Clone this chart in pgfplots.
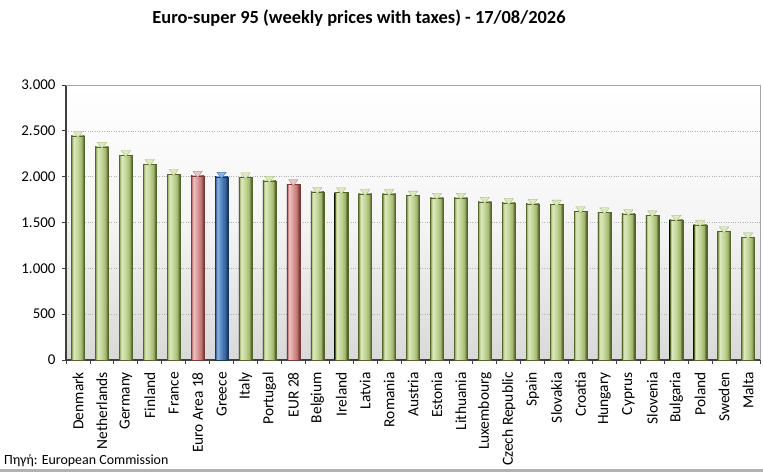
\documentclass[border=0pt]{standalone}
\usepackage{pgfplots}
\pgfplotsset{compat=1.18}
\usepackage{fontspec}
\setmainfont{Carlito}
\definecolor{gedge}{HTML}{55662A}
\definecolor{gbody}{HTML}{C2D596}
\definecolor{ghigh}{HTML}{DDE9BF}
\definecolor{gshade}{HTML}{A3B670}
\definecolor{redge}{HTML}{7A3B39}
\definecolor{rbody}{HTML}{D99694}
\definecolor{rhigh}{HTML}{EDC3C2}
\definecolor{rshade}{HTML}{BC7270}
\definecolor{bedge}{HTML}{17375E}
\definecolor{bbody}{HTML}{4F81BD}
\definecolor{bhigh}{HTML}{8DB3E2}
\definecolor{bshade}{HTML}{3A659B}
\pgfdeclarehorizontalshading{gbar}{100bp}{color(0bp)=(gedge); color(25bp)=(gedge); color(27.5bp)=(gshade); color(34bp)=(ghigh); color(50bp)=(gbody); color(64bp)=(gshade); color(72bp)=(gedge); color(75bp)=(gedge); color(100bp)=(gedge)}
\pgfdeclarehorizontalshading{rbar}{100bp}{color(0bp)=(redge); color(25bp)=(redge); color(27.5bp)=(rshade); color(34bp)=(rhigh); color(50bp)=(rbody); color(64bp)=(rshade); color(72bp)=(redge); color(75bp)=(redge); color(100bp)=(redge)}
\pgfdeclarehorizontalshading{bbar}{100bp}{color(0bp)=(bedge); color(25bp)=(bedge); color(27.5bp)=(bshade); color(34bp)=(bhigh); color(50bp)=(bbody); color(64bp)=(bshade); color(72bp)=(bedge); color(75bp)=(bedge); color(100bp)=(bedge)}
% one bar per \addplot so each bar gets its own shading
\newcommand{\onebar}[3]{%
  \addplot[ybar, bar shift=0pt, bar width=13bp, draw=#1edge, line width=0.3bp, shading=#1bar, shade, forget plot] coordinates {(#2,#3)};
  \addplot[only marks, mark=triangle*, mark size=4.2bp, mark options={rotate=180, xscale=1.3, yshift=-2.4bp, fill=#1high, draw=#1shade, line width=0.3bp}, forget plot] coordinates {(#2,#3)};
}
\begin{document}
\begin{tikzpicture}
\path[use as bounding box] (0,0) rectangle (763bp,472bp);
\fill[gray!60] (0,0) rectangle (763bp,3bp);
\node[font=\bfseries\fontsize{18.5}{21}\selectfont] at (359bp,454bp) {Euro-super 95 (weekly prices with taxes) - 17/08/2026};
\node[anchor=base west, font=\fontsize{14}{16}\selectfont, inner sep=0pt] at (4bp,8bp) {Πηγή: European Commission};
\begin{axis}[
  at={(66bp,112bp)}, anchor=south west,
  scale only axis, width=694bp, height=275bp,
  xmin=-0.5, xmax=28.5, ymin=0, ymax=3000,
  axis x line*=bottom, axis y line*=left,
  axis line style={draw=black!75, line width=1.2bp},
  axis background/.style={top color=white, bottom color=black!15, middle color=black!4},
  xtick={0,...,28},
  xticklabels={Denmark,Netherlands,Germany,Finland,France,Euro Area 18,Greece,Italy,Portugal,EUR 28,Belgium,Ireland,Latvia,Romania,Austria,Estonia,Lithuania,Luxembourg,Czech Republic,Spain,Slovakia,Croatia,Hungary,Cyprus,Slovenia,Bulgaria,Poland,Sweden,Malta},
  x tick label style={rotate=90, anchor=east, font=\fontsize{15.5}{18}\selectfont, inner sep=1bp},
  major x tick style={draw=none},
  minor xtick={-0.5,0.5,...,28.5},
  minor x tick style={draw=black!75, line width=0.8bp},
  minor tick length=4bp,
  tick align=outside,
  ytick={0,500,...,3000},
  major tick length=4bp,
  y tick style={draw=black!75, line width=0.8bp},
  y tick label style={font=\fontsize{15}{17}\selectfont, xshift=-3bp},
  scaled y ticks=false,
  yticklabel style={/pgf/number format/.cd, fixed, 1000 sep={.}, assume math mode=true},
  ymajorgrids, grid style={dotted, black!30},
  xticklabel style={xshift=-7bp},
  clip=false,
]
\draw[black!35, line width=0.8bp] (rel axis cs:0,1) -- (rel axis cs:1,1) -- (rel axis cs:1,0);
\onebar{g}{0}{2444}
\onebar{g}{1}{2327}
\onebar{g}{2}{2236}
\onebar{g}{3}{2138}
\onebar{g}{4}{2029}
\onebar{r}{5}{2011}
\onebar{b}{6}{2000}
\onebar{g}{7}{1993}
\onebar{g}{8}{1956}
\onebar{r}{9}{1920}
\onebar{g}{10}{1833}
\onebar{g}{11}{1829}
\onebar{g}{12}{1811}
\onebar{g}{13}{1811}
\onebar{g}{14}{1793}
\onebar{g}{15}{1771}
\onebar{g}{16}{1771}
\onebar{g}{17}{1727}
\onebar{g}{18}{1713}
\onebar{g}{19}{1705}
\onebar{g}{20}{1695}
\onebar{g}{21}{1622}
\onebar{g}{22}{1611}
\onebar{g}{23}{1593}
\onebar{g}{24}{1578}
\onebar{g}{25}{1531}
\onebar{g}{26}{1476}
\onebar{g}{27}{1404}
\onebar{g}{28}{1338}
\end{axis}
\end{tikzpicture}
\end{document}
